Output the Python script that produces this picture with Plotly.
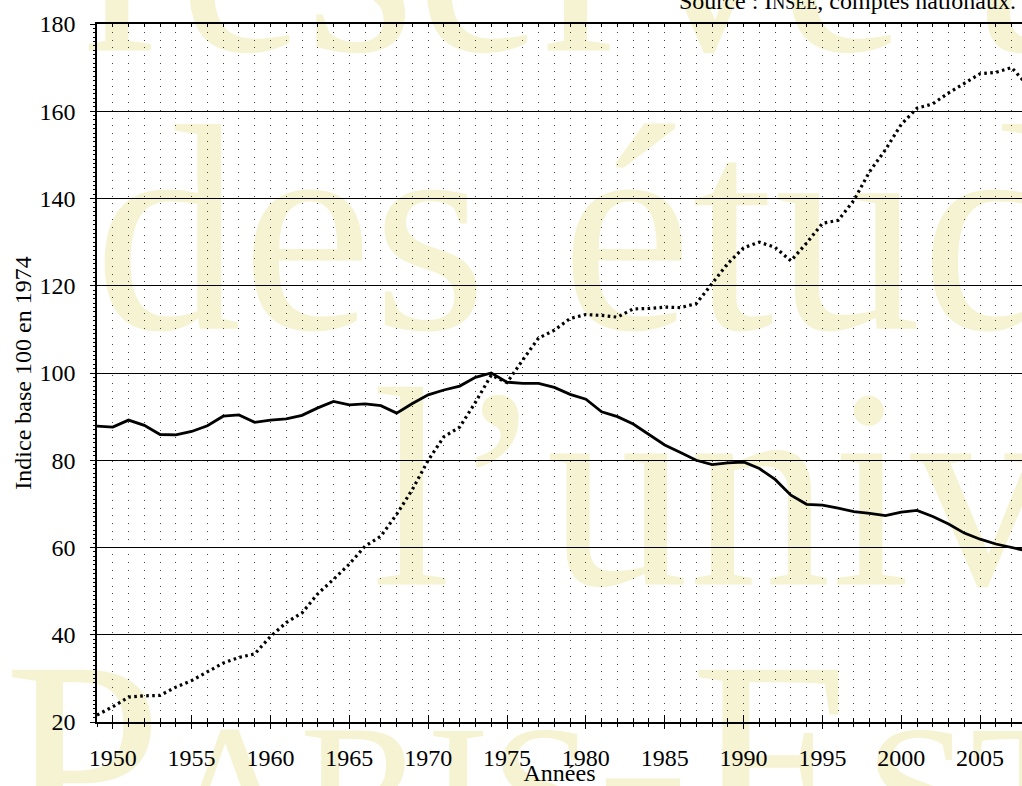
import plotly.graph_objects as go

# ---------------- data ----------------
years = list(range(1949, 2009))

solid_values = [
    87.8, 87.6, 89.2, 88.0, 85.9, 85.8, 86.6, 87.9, 90.1, 90.4,   # 1949-1958
    88.7, 89.2, 89.5, 90.3, 92.0, 93.5, 92.7, 92.9, 92.5, 90.8,   # 1959-1968
    93.0, 95.0, 96.1, 97.0, 99.0, 100.0, 97.9, 97.6, 97.6, 96.7,  # 1969-1978
    95.1, 94.0, 91.1, 90.0, 88.3, 85.8, 83.5, 81.8, 80.0, 79.0,   # 1979-1988
    79.4, 79.6, 78.1, 75.6, 72.0, 69.9, 69.7, 69.0, 68.2, 67.8,   # 1989-1998
    67.3, 68.1, 68.5, 67.1, 65.4, 63.3, 61.9, 60.8, 60.0, 59.2,   # 1999-2008
]

dotted_values = [
    21.6, 23.5, 25.7, 26.0, 26.1, 28.0, 29.5, 31.5, 33.5, 34.8,   # 1949-1958
    35.6, 39.6, 42.8, 45.0, 49.4, 52.7, 56.2, 60.3, 62.6, 67.6,   # 1959-1968
    73.3, 80.0, 85.4, 87.6, 93.3, 99.5, 97.8, 103.0, 108.0, 109.8,  # 1969-1978
    112.5, 113.4, 113.2, 112.8, 114.7, 114.8, 115.1, 115.0, 115.9, 120.5,  # 1979-1988
    125.1, 128.7, 130.0, 128.8, 125.7, 129.8, 134.3, 135.0, 139.6, 146.2,  # 1989-1998
    151.2, 157.0, 160.7, 161.7, 164.2, 166.4, 168.6, 168.9, 170.0, 166.0,  # 1999-2008
]

y_ticks = [20, 40, 60, 80, 100, 120, 140, 160, 180]
x_tick_labels = [1950, 1955, 1960, 1965, 1970, 1975, 1980, 1985, 1990, 1995, 2000, 2005]

x_title = "Années"
y_title = "Indice base 100 en 1974"
source_text = "Source : I<span style='font-size:18px'>NSEE</span>, comptes nationaux."

# watermark rows (text)
wm_rows = [
    "réservé aux",
    "des étudiants",
    "l’université",
    "P<span style='font-size:190px'>ARIS</span>-E<span style='font-size:190px'>ST</span>",
]

# ---------------- figure ----------------
W, H = 1022, 786
ML, MR, MT, MB = 97, 0, 24, 64
PW, PH = W - ML - MR, H - MT - MB
SERIF = "Liberation Serif"
FS = 24
X_RANGE = [1949, 1949 + PW / 15.77]
tick_font = dict(family=SERIF, size=FS, color="black")

fig = go.Figure()

fig.add_trace(go.Scatter(
    x=years, y=solid_values, mode="lines",
    line=dict(color="black", width=2.8),
    showlegend=False, hoverinfo="skip",
))
fig.add_trace(go.Scatter(
    x=years, y=dotted_values, mode="lines",
    line=dict(color="black", width=3.2, dash="2.6px,3.4px"),
    showlegend=False, hoverinfo="skip",
))
# invisible traces to activate the helper axes
fig.add_trace(go.Scatter(x=[1960], y=[50], xaxis="x2", mode="markers",
                         marker=dict(opacity=0), showlegend=False, hoverinfo="skip"))
fig.add_trace(go.Scatter(x=[1960], y=[50], xaxis="x3", mode="markers",
                         marker=dict(opacity=0), showlegend=False, hoverinfo="skip"))

grid_dash = "1px,6.8px"
grid_color = "#444444"

fig.update_layout(
    width=W, height=H,
    margin=dict(l=ML, r=MR, t=MT, b=MB, pad=0, autoexpand=False),
    paper_bgcolor="white", plot_bgcolor="rgba(0,0,0,0)",
    font=dict(family=SERIF, size=FS, color="black"),
    xaxis=dict(
        range=X_RANGE, tickmode="array", tickvals=x_tick_labels,
        ticktext=[str(v) for v in x_tick_labels], tickfont=tick_font,
        ticks="outside", ticklen=5, tickwidth=1.2, tickcolor="black",
        showline=True, linecolor="black", linewidth=2,
        showgrid=True, gridcolor=grid_color, gridwidth=1, griddash=grid_dash,
        minor=dict(dtick=1, tick0=1949, ticks="outside", ticklen=3, tickwidth=1,
                   tickcolor="black", showgrid=True, gridcolor=grid_color,
                   gridwidth=1, griddash=grid_dash),
        zeroline=False, ticklabelstandoff=8, automargin=False,
        title=dict(text=x_title, font=dict(family=SERIF, size=FS), standoff=3),
        anchor="y", layer="above traces",
    ),
    xaxis2=dict(
        range=X_RANGE, overlaying="x", anchor="y", side="bottom",
        tickmode="array", tickvals=x_tick_labels, showticklabels=False,
        ticks="inside", ticklen=7, tickwidth=1.2, tickcolor="black",
        minor=dict(dtick=1, tick0=1949, ticks="inside", ticklen=4, tickwidth=1,
                   tickcolor="black", showgrid=False),
        showgrid=False, showline=False, zeroline=False, automargin=False,
    ),
    xaxis3=dict(
        range=X_RANGE, overlaying="x", anchor="y", side="top",
        dtick=1, tick0=1949, showticklabels=False,
        ticks="inside", ticklen=3, tickwidth=1, tickcolor="black",
        showgrid=False, showline=True, linecolor="black", linewidth=2,
        zeroline=False, automargin=False,
    ),
    yaxis=dict(
        range=[20, 180], tickmode="array", tickvals=y_ticks,
        ticktext=[str(v) for v in y_ticks], tickfont=tick_font,
        ticks="outside", ticklen=5, tickwidth=1.2, tickcolor="black",
        showline=True, linecolor="black", linewidth=1.5,
        showgrid=True, gridcolor="black", gridwidth=1,
        minor=dict(dtick=1, tick0=20, ticks="outside", ticklen=2, tickwidth=0.8,
                   tickcolor="black", showgrid=False),
        zeroline=False, ticklabelstandoff=10, automargin=False,
        title=dict(text=y_title, font=dict(family=SERIF, size=FS), standoff=1),
    ),
)

# source annotation (top right)
fig.add_annotation(
    text=source_text, xref="paper", yref="paper",
    x=(1018 - ML) / PW, y=(H - MB - 1) / PH, xanchor="right", yanchor="middle",
    showarrow=False, font=dict(family=SERIF, size=FS, color="black"),
)

# ---------------- watermark (pale, below grid) ----------------
WM_COLOR = "#f6f3d2"


def px_x(px):
    return (px - ML) / PW


def px_y(py):
    return (H - MB - py) / PH


# (text, left px, baseline px, font size)
wm_layout = [
    (wm_rows[0], 80, 16, 285),
    (wm_rows[1], 91, 293, 295),
    (wm_rows[2], 369, 550, 285),
    (wm_rows[3], 1, 822, 285),
]
for text, left, base, size in wm_layout:
    top = base - size * 0.9
    fig.add_shape(
        type="rect", xref="paper", yref="paper", layer="below",
        x0=px_x(left), x1=px_x(left + 2000), y0=px_y(base + size * 0.25), y1=px_y(top),
        line=dict(width=0), fillcolor="rgba(0,0,0,0)",
        label=dict(text=text, textposition="middle left", padding=0,
                   font=dict(family=SERIF, size=size, color=WM_COLOR)),
    )

fig.write_html(
    "out.html",
    config={"displayModeBar": False},
    post_script="document.body.style.margin='0px';document.body.style.overflow='hidden';",
)
